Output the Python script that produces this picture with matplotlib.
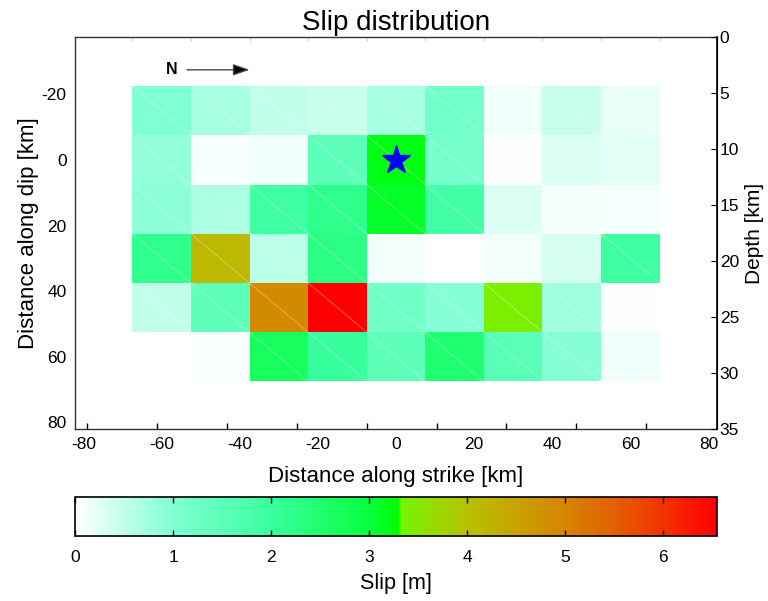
import matplotlib
matplotlib.use("Agg")
import matplotlib.pyplot as plt
import numpy as np
from matplotlib.colors import LinearSegmentedColormap
from matplotlib.collections import LineCollection

plt.rcParams['font.family'] = ['Liberation Sans', 'DejaVu Sans']
plt.rcParams['axes.unicode_minus'] = False

# Centros de las subfallas (km)
strike_centers = [-60, -45, -30, -15, 0, 15, 30, 45, 60]
dip_centers = [-15, 0, 15, 30, 45, 60]
patch_size = 15.0

# Deslizamiento por subfalla (m), una fila por cada centro en buzamiento
slip_row1 = [1.0, 0.7, 0.5, 0.45, 0.7, 1.2, 0.15, 0.45, 0.2]
slip_row2 = [0.85, 0.08, 0.15, 1.5, 3.2, 1.15, 0.05, 0.3, 0.25]
slip_row3 = [0.9, 0.65, 1.9, 2.2, 3.1, 1.85, 0.3, 0.12, 0.1]
slip_row4 = [2.2, 4.15, 0.55, 2.3, 0.12, 0.0, 0.12, 0.35, 1.9]
slip_row5 = [0.5, 1.5, 4.9, 6.55, 1.25, 0.95, 3.38, 0.75, 0.05]
slip_row6 = [0.0, 0.07, 2.7, 2.0, 1.5, 2.5, 1.55, 0.95, 0.15]

# Hipocentro
hypo_strike = 0.0
hypo_dip = 0.0

# Eje de profundidad
depth_ticks = [0, 5, 10, 15, 20, 25, 30, 35]
slip_ticks = [0, 1, 2, 3, 4, 5, 6]

slip = np.array([slip_row1, slip_row2, slip_row3, slip_row4, slip_row5, slip_row6])
slip_max = slip.max()

# Paleta: blanco -> verde, luego verde-lima -> rojo
cmap_nodes = [
    (0.0, (1.0, 1.0, 1.0)),
    (1.0, (0.50, 1.0, 0.83)),
    (2.0, (0.22, 1.0, 0.62)),
    (3.0, (0.03, 1.0, 0.25)),
    (3.30, (0.0, 1.0, 0.0)),
    (3.32, (0.45, 0.96, 0.0)),
    (4.0, (0.72, 0.76, 0.0)),
    (5.0, (0.84, 0.52, 0.0)),
    (5.5, (0.89, 0.38, 0.0)),
    (6.0, (0.95, 0.20, 0.0)),
    (slip_max, (1.0, 0.0, 0.0)),
]
cmap = LinearSegmentedColormap.from_list(
    "slip", [(v / slip_max, c) for v, c in cmap_nodes])

x_edges = np.r_[np.array(strike_centers) - patch_size / 2, strike_centers[-1] + patch_size / 2]
y_edges = np.r_[np.array(dip_centers) - patch_size / 2, dip_centers[-1] + patch_size / 2]

fig = plt.figure(figsize=(7.68, 6.01), dpi=100)
ax = fig.add_axes([75 / 768, 1 - 429 / 601, 642 / 768, 392 / 601])

mesh = ax.pcolormesh(x_edges, y_edges, slip, cmap=cmap, vmin=0, vmax=slip_max)

# Diagonales tenues dentro de cada celda (como en el original)
segs = []
for i in range(len(dip_centers)):
    for j in range(len(strike_centers)):
        segs.append([(x_edges[j], y_edges[i]), (x_edges[j + 1], y_edges[i + 1])])
ax.add_collection(LineCollection(segs, colors='white', linewidths=0.6, alpha=0.4))

ax.plot(hypo_strike, hypo_dip, marker='*', ms=21, color='blue', mec='blue', ls='none')

ax.set_xlim(-82.2, 82.2)
ax.set_ylim(82, -37.5)
ax.set_xticks(np.arange(-80, 81, 20))
ax.set_yticks(np.arange(-20, 81, 20))
ax.xaxis.set_minor_locator(matplotlib.ticker.FixedLocator(np.linspace(-79, 64, 9)))
ax.tick_params(axis='both', which='major', length=0, labelsize=12.5, pad=6)
ax.tick_params(axis='x', which='minor', direction='in', length=4, width=1, color='black')
ax.set_xlabel("Distance along strike [km]", fontsize=16, labelpad=10)
ax.set_ylabel("Distance along dip [km]", fontsize=16, labelpad=2)
ax.set_title("Slip distribution", fontsize=20, pad=5)
for side in ['left', 'bottom', 'top']:
    ax.spines[side].set_color('#333333')
    ax.spines[side].set_linewidth(1.0)

# Marcas tenues arriba en los bordes de las celdas
top = ax.secondary_xaxis('top')
top.set_xticks(x_edges)
top.tick_params(direction='in', length=3, color='#cccccc', labeltop=False)
top.spines['top'].set_visible(False)

# Flecha del norte
ax.text(-57.5, -27.5, "N", fontsize=11.5, fontweight='bold', ha='center', va='center')
ax.annotate("", xy=(-37.5, -27.5), xytext=(-53.5, -27.5),
            arrowprops=dict(arrowstyle='-|>,head_length=1.0,head_width=0.35',
                            ec='#444444', fc='black', lw=1.0, shrinkA=0, shrinkB=0))

# Eje de profundidad a la derecha
ax2 = ax.twinx()
ax2.set_ylim(depth_ticks[-1], depth_ticks[0])
ax2.set_yticks(depth_ticks)
ax2.tick_params(axis='y', direction='in', length=4, labelsize=12.5, pad=2)
ax2.set_ylabel("Depth [km]", fontsize=15, labelpad=4)
ax2.spines['right'].set_linewidth(1.2)
for side in ['left', 'bottom', 'top']:
    ax2.spines[side].set_visible(False)

# Barra de color
cax = fig.add_axes([75 / 768, 1 - 536 / 601, 642 / 768, 39 / 601])
cb = fig.colorbar(mesh, cax=cax, orientation='horizontal')
cb.set_ticks(slip_ticks)
cax.tick_params(direction='in', top=True, bottom=True, length=4, width=1,
                labelsize=12.5, pad=10)
cb.outline.set_linewidth(1.2)
cb.set_label("Slip [m]", fontsize=15.5, labelpad=6)

fig.savefig("out.png", dpi=100)
